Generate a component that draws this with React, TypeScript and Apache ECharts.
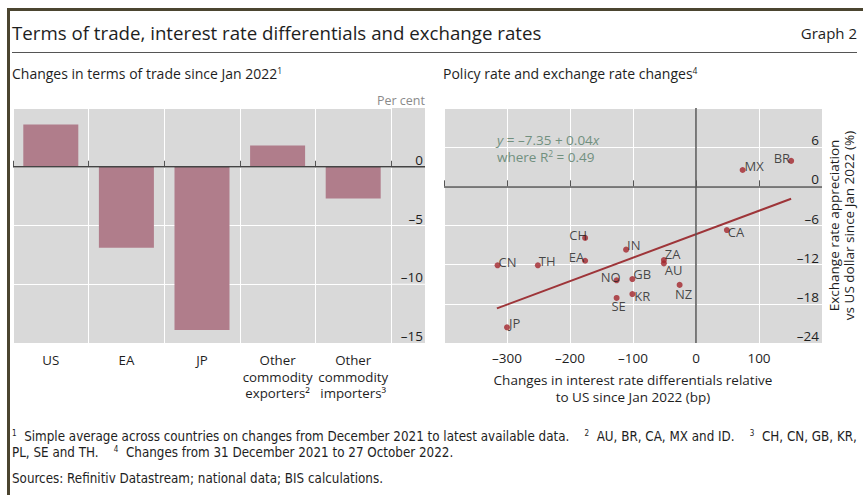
import React, { useEffect, useRef } from "react";
import * as echarts from "echarts";

// ---- Left panel: changes in terms of trade (per cent)
const barCategories = ["US", "EA", "JP", "Other\ncommodity\nexporters\u00b2", "Other\ncommodity\nimporters\u00b3"];
const barValues = [3.6, -6.9, -13.9, 1.8, -2.7];
const barYTicks = [-15, -10, -5, 0, 5];

// ---- Right panel: policy rate vs exchange rate changes
const countries = ["MX", "BR", "CA", "CH", "IN", "CN", "TH", "EA", "ZA", "AU", "NO", "GB", "NZ", "KR", "SE", "JP"];
const rateDiffBp = [74, 151, 49, -176, -111, -315, -251, -176, -51, -51, -126, -101, -26, -101, -126, -300];
const fxChangePct = [2.5, 3.9, -6.7, -7.9, -9.7, -12.1, -12.1, -11.4, -11.3, -11.8, -14.4, -14.2, -15.1, -16.5, -17.1, -21.6];
const fitLineX = [-316, 151];
const fitLineY = [-18.7, -1.9];
const scatterXTicks = [-400, -300, -200, -100, 0, 100];
const scatterXLabels = [-300, -200, -100, 0, 100];
const scatterYTicks = [-24, -18, -12, -6, 0, 6, 12];

// label placement per country (style, not data)
const labelPlacement: Record<string, { position: string; offset: number[] }> = {
  MX: { position: "right", offset: [-1, -4] },
  BR: { position: "left", offset: [2, -3] },
  CA: { position: "right", offset: [-2, 2] },
  CH: { position: "left", offset: [5, -3] },
  IN: { position: "right", offset: [-2, -5] },
  CN: { position: "right", offset: [-2, -3] },
  TH: { position: "right", offset: [-2, -4] },
  EA: { position: "left", offset: [2, -4] },
  ZA: { position: "right", offset: [-2, -6] },
  AU: { position: "right", offset: [-2, 7] },
  NO: { position: "left", offset: [7, -3] },
  GB: { position: "right", offset: [-2, -5] },
  NZ: { position: "bottom", offset: [4, 0] },
  KR: { position: "right", offset: [-1, 2] },
  SE: { position: "bottom", offset: [2, -1] },
  JP: { position: "right", offset: [-1, -4] },
};

const FONT = "'Open Sans', 'Noto Sans', sans-serif";
const NARROW = "'Liberation Sans Narrow', 'DejaVu Sans Condensed', Roboto, sans-serif";
const TXT = "#1e1e1e";
const PANEL = "#d9d9d9";
const BAR = "#b07d8b";
const DOT = "#a3262c";
const FIT = "#9e3539";
const TICK = "#555555";

const fmt = (v: number) => (v < 0 ? "\u2013" + Math.abs(v) : String(v));

export default function App() {
  const ref = useRef<HTMLDivElement>(null);
  useEffect(() => {
    if (!ref.current) return;
    const chart = echarts.init(ref.current, undefined, { renderer: "svg" });

    const supStyle = (size: number, family: string, fill: string) => ({ fontSize: size, verticalAlign: "top", fontFamily: family, fill });

    const baseGraphic: any[] = [
      // frame
      { id: "frameTop", type: "rect", shape: { x: 7, y: 8, width: 856, height: 3 }, style: { fill: "#4b4530" }, z: 10 },
      { id: "frameLeft", type: "rect", shape: { x: 7, y: 8, width: 3, height: 487 }, style: { fill: "#4b4530" }, z: 10 },
      { id: "titleRule", type: "line", shape: { x1: 12, y1: 52.5, x2: 857, y2: 52.5 }, style: { stroke: "#555", lineWidth: 1 }, z: 10 },
      // panel backgrounds
      { id: "bgL", type: "rect", shape: { x: 13, y: 108, width: 412, height: 235 }, style: { fill: PANEL }, z: -10 },
      { id: "bgR", type: "rect", shape: { x: 444, y: 108, width: 378, height: 235 }, style: { fill: PANEL }, z: -10 },
      // titles
      { id: "title", type: "text", x: 12, y: 32, style: { text: "Terms of trade, interest rate differentials and exchange rates", fontSize: 18.7, fontFamily: FONT, fill: TXT, verticalAlign: "middle", align: "left" }, z: 10 },
      { id: "graphNo", type: "text", x: 857, y: 33, style: { text: "Graph 2", fontSize: 15, fontFamily: FONT, fill: TXT, verticalAlign: "middle", align: "right" }, z: 10 },
      {
        id: "subL", type: "text", x: 12, y: 73, z: 10,
        style: { text: "Changes in terms of trade since Jan 2022{s|1}", fontSize: 14, fontFamily: FONT, fill: TXT, verticalAlign: "middle", align: "left", rich: { s: supStyle(8.5, FONT, TXT) } },
      },
      {
        id: "subR", type: "text", x: 443, y: 73, z: 10,
        style: { text: "Policy rate and exchange rate changes{s|4}", fontSize: 14, fontFamily: FONT, fill: TXT, verticalAlign: "middle", align: "left", rich: { s: supStyle(8.5, FONT, TXT) } },
      },
      { id: "perCent", type: "text", x: 425, y: 100, style: { text: "Per cent", fontSize: 12.5, fontFamily: FONT, fill: "#8a8a8a", verticalAlign: "middle", align: "right" }, z: 10 },
      // regression annotation
      {
        id: "fitNote", type: "text", x: 497, y: 131, z: 10,
        style: {
          text: "{i|y} = \u20137.35 + 0.04{i|x}\nwhere R{s|2} = 0.49",
          fontSize: 13.5, lineHeight: 17.5, fontFamily: FONT, fill: "#71907f", verticalAlign: "top", align: "left",
          rich: { i: { fontStyle: "italic", fontSize: 13.5, fontFamily: FONT, fill: "#71907f" }, s: supStyle(8.5, FONT, "#71907f") },
        },
      },
      // footnotes
      {
        id: "fn1", type: "text", x: 12, y: 436, z: 10,
        style: {
          text: "{s|1}  Simple average across countries on changes from December 2021 to latest available data.    {s|2}  AU, BR, CA, MX and ID.    {s|3}  CH, CN, GB, KR,",
          fontSize: 13.3, fontFamily: NARROW, fill: TXT, verticalAlign: "middle", align: "left",
          rich: { s: supStyle(8, NARROW, TXT) },
        },
      },
      {
        id: "fn2", type: "text", x: 12, y: 452, z: 10,
        style: {
          text: "PL, SE and TH.    {s|4}  Changes from 31 December 2021 to 27 October 2022.",
          fontSize: 13.3, fontFamily: NARROW, fill: TXT, verticalAlign: "middle", align: "left",
          rich: { s: supStyle(8, NARROW, TXT) },
        },
      },
      {
        id: "src", type: "text", x: 12, y: 478, z: 10,
        style: { text: "Sources: Refinitiv Datastream; national data; BIS calculations.", fontSize: 13.3, fontFamily: NARROW, fill: TXT, verticalAlign: "middle", align: "left" },
      },
    ];

    const option: any = {
      animation: false,
      backgroundColor: "#ffffff",
      textStyle: { fontFamily: FONT },
      grid: [
        { left: 13, top: 108, width: 378, height: 235 },
        { left: 444, top: 108, width: 378, height: 235 },
      ],
      xAxis: [
        {
          type: "category",
          gridIndex: 0,
          data: barCategories,
          position: "bottom",
          axisLine: { show: false },
          axisTick: { show: true, inside: true, length: 6, lineStyle: { color: TICK } },
          splitLine: { show: true, lineStyle: { color: "#ffffff", width: 1 } },
          axisLabel: {
            interval: 0,
            margin: 9,
            color: TXT,
            fontSize: 13.3,
            lineHeight: 16.5,
          },
        },
        {
          type: "value",
          gridIndex: 1,
          min: -400,
          max: 200,
          interval: 100,
          axisLine: { show: false },
          axisTick: { show: true, inside: true, length: 6, customValues: scatterXTicks, lineStyle: { color: TICK } },
          axisLabel: { customValues: scatterXLabels, formatter: fmt, margin: 8, color: TXT, fontSize: 13.5 },
          splitLine: { show: true, lineStyle: { color: "#ffffff", width: 1 } },
          name: "Changes in interest rate differentials relative\nto US since Jan 2022 (bp)",
          nameLocation: "middle",
          nameGap: 28,
          nameTextStyle: { fontSize: 13.5, lineHeight: 17, color: TXT, verticalAlign: "top" },
        },
      ],
      yAxis: [
        {
          type: "value",
          gridIndex: 0,
          min: barYTicks[0],
          max: barYTicks[barYTicks.length - 1],
          interval: 5,
          position: "right",
          axisLine: { show: false },
          axisTick: { show: false },
          splitLine: { show: true, lineStyle: { color: "#ffffff", width: 1 } },
          axisLabel: {
            formatter: (v: number) => (v === 5 ? "" : fmt(v)),
            align: "right",
            verticalAlign: "bottom",
            margin: 32,
            color: TXT,
            fontSize: 13.5,
          },
        },
        {
          type: "value",
          gridIndex: 1,
          min: scatterYTicks[0],
          max: scatterYTicks[scatterYTicks.length - 1],
          interval: 6,
          position: "right",
          axisLine: { show: false },
          axisTick: { show: false },
          splitLine: { show: true, lineStyle: { color: "#ffffff", width: 1 } },
          axisLabel: {
            inside: true,
            formatter: (v: number) => (v === 12 ? "" : fmt(v)),
            verticalAlign: "bottom",
            margin: 3,
            color: TXT,
            fontSize: 13.5,
          },
          name: "Exchange rate appreciation\nvs US dollar since Jan 2022 (%)",
          nameLocation: "middle",
          nameRotate: 90,
          nameGap: 4,
          nameMoveOverlap: false,
          nameTextStyle: { fontSize: 13.5, lineHeight: 15, color: TXT },
        },
      ],
      series: [
        {
          type: "bar",
          xAxisIndex: 0,
          yAxisIndex: 0,
          data: barValues,
          barWidth: 55,
          itemStyle: { color: BAR },
        },
        {
          type: "line",
          xAxisIndex: 1,
          yAxisIndex: 1,
          data: fitLineX.map((x, i) => [x, fitLineY[i]]),
          symbol: "none",
          lineStyle: { color: FIT, width: 2 },
          z: 3,
          markLine: {
            silent: true,
            symbol: ["none", "none"],
            label: { show: false },
            lineStyle: { color: "#555", width: 1.5, type: "solid" },
            data: [{ xAxis: 0 }, { yAxis: 0 }],
          },
        },
        {
          type: "scatter",
          xAxisIndex: 1,
          yAxisIndex: 1,
          symbolSize: 6,
          itemStyle: { color: DOT },
          z: 4,
          label: { show: true, formatter: "{b}", distance: 0, fontSize: 13, color: TXT, fontFamily: FONT },
          data: countries.map((c, i) => ({
            name: c,
            value: [rateDiffBp[i], fxChangePct[i]],
            label: { position: labelPlacement[c].position, offset: labelPlacement[c].offset },
          })),
        },
      ],
      graphic: baseGraphic,
    };

    chart.setOption(option);

    // extend left-panel horizontal lines under the y labels, via the axis scale
    const gridRight = 391;
    const panelRight = 425;
    const extra: any[] = [];
    barYTicks.forEach((v) => {
      if (v === barYTicks[0] || v === barYTicks[barYTicks.length - 1]) return;
      const py = chart.convertToPixel({ yAxisIndex: 0 }, v) as number;
      if (v === 0) {
        extra.push({ id: "zeroL", type: "line", shape: { x1: 13, y1: py, x2: panelRight, y2: py }, style: { stroke: "#444", lineWidth: 1.5 }, z: 5 });
      } else {
        extra.push({ id: "gridExt" + v, type: "line", shape: { x1: gridRight, y1: py, x2: panelRight, y2: py }, style: { stroke: "#ffffff", lineWidth: 1 }, z: -9 });
      }
    });
    chart.setOption({ graphic: baseGraphic.concat(extra) });

    return () => chart.dispose();
  }, []);

  return <div ref={ref} style={{ position: "fixed", left: 0, top: 0, width: 863, height: 495 }} />;
}
